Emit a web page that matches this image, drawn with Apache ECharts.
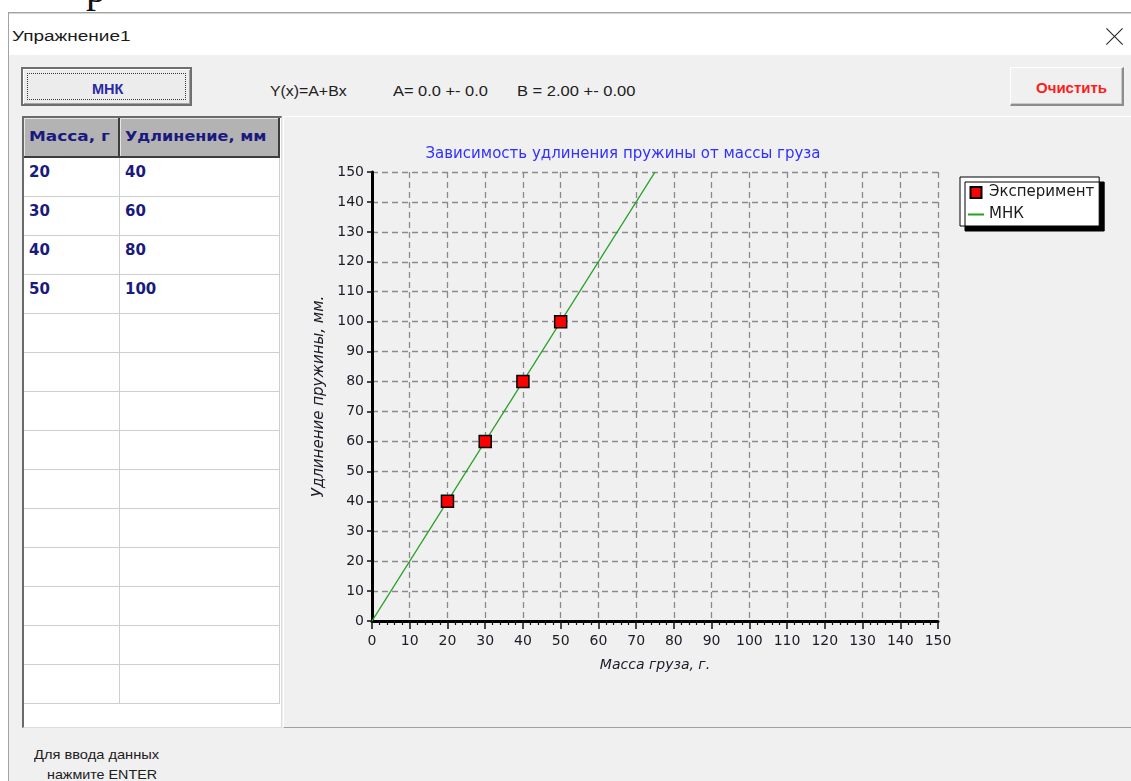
<!DOCTYPE html>
<html lang="ru">
<head>
<meta charset="utf-8">
<title>Упражнение1</title>
<script src="https://cdn.jsdelivr.net/npm/echarts@6/dist/echarts.min.js"></script>
<style>
  html, body { margin: 0; padding: 0; }
  body {
    width: 1131px; height: 781px; overflow: hidden; position: relative;
    background: #ffffff; font-family: 'Liberation Sans', Arial, sans-serif; color: #1e1e1e;
  }
  .abs { position: absolute; }
  .txt { position: absolute; white-space: nowrap; display: inline-block; transform-origin: 0 50%; line-height: 1; }
  #frame { left: 8px; top: 12px; right: 0; bottom: 0; background: #f0f0f0;
           border-left: 1px solid #a3a3a3; border-top: 1px solid #a3a3a3; box-shadow: inset 0 1px 0 #d6d6d6; }
  #titlebar { left: 9px; top: 14px; right: 0; height: 41px; background: #ffffff; }
  #closeX { left: 1105px; top: 27px; width: 18px; height: 18px; }
  #closeX i { position: absolute; left: -2px; top: 8.5px; width: 23px; height: 1.2px; background: #222; }
  #closeX i:first-child { transform: rotate(45deg); }
  #closeX i:last-child { transform: rotate(-45deg); }
  #btnMnk { left: 21px; top: 67px; width: 171px; height: 39px; box-sizing: border-box;
            background: #ececec; border: 2px solid #6f6f6f;
            box-shadow: inset 1px 1px 0 #ffffff, inset -1px -1px 0 #a5a5a5; }
  #btnMnk .focus { position: absolute; left: 4px; top: 4px; right: 4px; bottom: 4px; border: 1px dotted #3a3a3a; }
  #btnClear { left: 1010px; top: 67px; width: 114px; height: 39px; box-sizing: border-box;
              background: #f0f0f0; border-top: 1px solid #ffffff; border-left: 1px solid #ffffff;
              border-right: 2px solid #8d8d8d; border-bottom: 2px solid #8d8d8d;
              box-shadow: inset -1px -1px 0 #c9c9c9; }
  #table { left: 22px; top: 116px; width: 260px; height: 612px; box-sizing: border-box; background: #ffffff;
           border-left: 2px solid #6a6a6a; border-top: 2px solid #6a6a6a;
           border-right: 1px solid #dcdcdc; border-bottom: 1px solid #dcdcdc; overflow: hidden; }
  .cell { position: absolute; box-sizing: border-box; }
  .hdr { background: #b3b3b3; border-right: 2px solid #3d3d3d; border-bottom: 2px solid #3d3d3d;
         box-shadow: inset 1px 1px 0 #e6e6e6; }
  .row { border-right: 1px solid #cfcfcf; border-bottom: 1px solid #cfcfcf; }
  .bold { font-family: 'DejaVu Sans', sans-serif; font-weight: bold; color: #1a1a7e; }
  #panel { left: 283px; top: 116px; width: 848px; height: 612px; box-sizing: border-box; background: #f0f0f0;
           border-top: 1px solid #ffffff; border-left: 1px solid #ffffff; border-bottom: 1px solid #a0a0a0; }
  #chart { position: absolute; left: 0; top: 0; width: 847px; height: 610px; }
</style>
</head>
<body>
<script>
// Measurements: load mass and the resulting spring elongation
const massGrams = [20, 30, 40, 50];
const elongationMm = [40, 60, 80, 100];

// Least-squares line y = A + B*x, drawn between its two end points
const fitCoefText = ['Y(x)=A+Bx', 'A= 0.0 +- 0.0', 'B = 2.00 +- 0.00'];
const fitLineMass = [0, 75];
const fitLineElong = [0, 150];

// Axis range and step shared by both axes
const axisMin = 0;
const axisMax = 150;
const axisStep = 10;

// Texts
const windowTitle = 'Упражнение1';
const chartTitle = 'Зависимость удлинения пружины от массы груза';
const xAxisTitle = 'Масса груза, г.';
const yAxisTitle = 'Удлинение пружины, мм.';
const seriesNames = ['Эксперимент', 'МНК'];
const tableHeaders = ['Масса, г', 'Удлинение, мм'];
const buttonLabels = ['МНК', 'Очистить'];
const hintLines = ['Для ввода данных', 'нажмите ENTER'];
const tableRowCount = 14;
</script>

<div class="txt" style="left:86px; top:-31px; font-family:'Liberation Serif',serif; font-size:40px; color:#111;">р</div>

<div id="frame" class="abs"></div>
<div id="titlebar" class="abs"></div>
<div id="closeX" class="abs"><i></i><i></i></div>

<div id="btnMnk" class="abs"><div class="focus"></div></div>
<div id="btnClear" class="abs"></div>

<div id="table" class="abs"></div>
<div id="panel" class="abs"><div id="chart"></div></div>

<script>
// ---------- window chrome ----------
function addText(text, opts) {
  const el = document.createElement('span');
  el.className = 'txt' + (opts.cls ? ' ' + opts.cls : '');
  el.textContent = text;
  el.style.left = opts.x + 'px';
  el.style.fontSize = opts.size + 'px';
  if (opts.color) el.style.color = opts.color;
  if (opts.family) el.style.fontFamily = opts.family;
  if (opts.weight) el.style.fontWeight = opts.weight;
  (opts.parent || document.body).appendChild(el);
  // vertical centre on opts.cy
  el.style.top = (opts.cy - el.offsetHeight / 2) + 'px';
  if (opts.w) {
    const k = opts.w / el.offsetWidth;
    el.style.transform = 'scaleX(' + k.toFixed(3) + ')';
  }
  return el;
}

addText(windowTitle, { x: 12, cy: 35.5, size: 14, w: 118, color: '#1a1a1a' });

addText(buttonLabels[0], { x: 92, cy: 88, size: 15, w: 31, weight: 'bold', color: '#2a2aa2' });
addText(buttonLabels[1], { x: 1036, cy: 87.5, size: 15, w: 71, weight: 'bold', color: '#ff1c1c' });

addText(fitCoefText[0], { x: 270, cy: 91, size: 14, w: 77, color: '#202020' });
addText(fitCoefText[1], { x: 393, cy: 90.5, size: 14, w: 95, color: '#202020' });
addText(fitCoefText[2], { x: 517, cy: 90.5, size: 14, w: 118, color: '#202020' });

addText(hintLines[0], { x: 34, cy: 754.5, size: 13, w: 125, color: '#202020' });
addText(hintLines[1], { x: 47, cy: 774.5, size: 13, w: 110, color: '#202020' });

// ---------- data grid ----------
const table = document.getElementById('table');
const colX = [0, 96];      // inside the table border
const colW = [96, 160];
const headH = 40;
const rowH = 39;
const headerTextW = [81, 141];

tableHeaders.forEach((h, c) => {
  const cell = document.createElement('div');
  cell.className = 'cell hdr';
  cell.style.left = colX[c] + 'px'; cell.style.top = '0px';
  cell.style.width = colW[c] + 'px'; cell.style.height = headH + 'px';
  table.appendChild(cell);
  addText(h, { x: colX[c] + 5, cy: 18, size: 14, w: headerTextW[c], cls: 'bold', parent: table });
});

for (let r = 0; r < tableRowCount; r++) {
  for (let c = 0; c < 2; c++) {
    const cell = document.createElement('div');
    cell.className = 'cell row';
    cell.style.left = colX[c] + 'px'; cell.style.top = (headH + r * rowH) + 'px';
    cell.style.width = colW[c] + 'px'; cell.style.height = rowH + 'px';
    table.appendChild(cell);
  }
  if (r < massGrams.length) {
    const cy = headH + r * rowH + 14;
    addText(String(massGrams[r]), { x: colX[0] + 5, cy: cy, size: 15, cls: 'bold', parent: table });
    addText(String(elongationMm[r]), { x: colX[1] + 5, cy: cy, size: 15, cls: 'bold', parent: table });
  }
}

// ---------- chart ----------
const chart = echarts.init(document.getElementById('chart'), null, { renderer: 'canvas' });
const font = 'DejaVu Sans';
const labelColor = '#1c1c28';

const experimentPoints = massGrams.map((m, i) => [m, elongationMm[i]]);
const fitPoints = fitLineMass.map((m, i) => [m, fitLineElong[i]]);

const borderAxis = {
  min: axisMin, max: axisMax, interval: axisStep,
  axisLine: { show: true, lineStyle: { color: '#000', width: 1.5, type: [5, 3] } },
  axisTick: { show: false }, axisLabel: { show: false }, splitLine: { show: false }
};

chart.setOption({
  animation: false,
  backgroundColor: 'transparent',
  title: {
    text: chartTitle,
    left: 339, top: 30, textAlign: 'center', padding: 0,
    textStyle: { fontFamily: font, fontSize: 15, fontWeight: 'normal', color: '#3030ff' }
  },
  legend: {
    orient: 'vertical',
    left: 676, top: 60,
    padding: [8, 5, 4, 7],
    itemGap: 7, itemWidth: 16, itemHeight: 11,
    symbolKeepAspect: true,
    backgroundColor: '#ffffff', borderColor: '#000000', borderWidth: 1,
    shadowColor: '#000000', shadowBlur: 0, shadowOffsetX: 5, shadowOffsetY: 5,
    textStyle: { fontFamily: font, fontSize: 15, color: '#1a1a1a' },
    data: [
      { name: seriesNames[0], icon: 'path://M0,0H10V10H0Z' },
      { name: seriesNames[1], itemStyle: { opacity: 0, color: 'rgba(0,0,0,0)', borderWidth: 0 } }
    ]
  },
  grid: { left: 88, top: 55, width: 566, height: 449, containLabel: false },
  xAxis: [
    {
      type: 'value', min: axisMin, max: axisMax, interval: axisStep,
      name: xAxisTitle, nameLocation: 'middle', nameGap: 37,
      nameTextStyle: { fontFamily: font, fontSize: 14, fontStyle: 'italic', color: labelColor },
      axisLine: { lineStyle: { color: '#000', width: 3 } },
      axisTick: { show: true, length: 8, lineStyle: { color: '#111', width: 1.5 } },
      minorTick: { show: true, splitNumber: 5, length: 4, lineStyle: { color: '#111', width: 1.2 } },
      axisLabel: { margin: 13, fontFamily: font, fontSize: 14, color: labelColor },
      splitLine: { show: true, lineStyle: { color: '#8a8a8a', width: 1.3, type: [6, 4] } }
    },
    Object.assign({ type: 'value', position: 'top' }, borderAxis)
  ],
  yAxis: [
    {
      type: 'value', min: axisMin, max: axisMax, interval: axisStep,
      name: yAxisTitle, nameLocation: 'middle', nameGap: 45,
      nameTextStyle: { fontFamily: font, fontSize: 15, fontStyle: 'italic', color: labelColor },
      axisLine: { show: true, lineStyle: { color: '#000', width: 3 } },
      axisTick: { show: true, length: 5, lineStyle: { color: '#111', width: 1.5 } },
      axisLabel: { margin: 8, fontFamily: font, fontSize: 14, color: labelColor },
      splitLine: { show: true, lineStyle: { color: '#8a8a8a', width: 1.3, type: [6, 4] } }
    },
    Object.assign({ type: 'value', position: 'right' }, borderAxis)
  ],
  series: [
    {
      name: seriesNames[1],
      type: 'line',
      data: fitPoints,
      symbol: 'none',
      lineStyle: { color: '#22a022', width: 1.4 },
      itemStyle: { color: '#22a022' },
      z: 2
    },
    {
      name: seriesNames[0],
      type: 'scatter',
      data: experimentPoints,
      symbol: 'rect',
      symbolSize: 12,
      itemStyle: { color: '#ff0000', borderColor: '#000000', borderWidth: 1.5, opacity: 1 },
      z: 3
    }
  ]
});
</script>
</body>
</html>
